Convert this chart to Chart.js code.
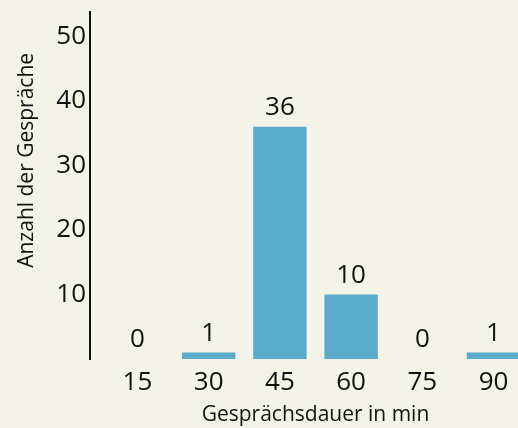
<!DOCTYPE html>
<html>
<head>
<meta charset="utf-8">
<script src="https://cdn.jsdelivr.net/npm/chart.js@4"></script>
<style>
  html, body { margin: 0; padding: 0; background: #f3f3e8; overflow: hidden; }
  #wrap { width: 541px; height: 428px; }
</style>
</head>
<body>
<div id="wrap"><canvas id="chart"></canvas></div>
<script>
const durations = [15, 30, 45, 60, 75, 90];
const counts = [0, 1, 36, 10, 0, 1];
const yTicks = [10, 20, 30, 40, 50];
const yTitle = 'Anzahl der Gespräche';

const FONT = "'Open Sans', 'Noto Sans', sans-serif";
const barColor = '#5aabc9';
const textColor = '#111111';

// value above each bar + the y title (sits above the middle of the axis in the original)
const labelsPlugin = {
  id: 'labelsPlugin',
  afterDatasetsDraw(chart) {
    const ctx = chart.ctx;
    const meta = chart.getDatasetMeta(0);
    ctx.save();
    ctx.font = '26px ' + FONT;
    ctx.fillStyle = textColor;
    ctx.textAlign = 'center';
    ctx.textBaseline = 'middle';
    meta.data.forEach((bar, i) => {
      ctx.fillText(String(counts[i]), bar.x, bar.y - 19);
    });

    ctx.font = '21px ' + FONT;
    ctx.translate(27, chart.scales.y.getPixelForValue(30.8));
    ctx.rotate(-Math.PI / 2);
    ctx.fillText(yTitle, 0, 0);
    ctx.restore();
  }
};

new Chart(document.getElementById('chart'), {
  type: 'bar',
  data: {
    datasets: [{
      data: durations.map((d, i) => ({ x: d, y: counts[i] })),
      backgroundColor: barColor,
      barPercentage: 1,
      categoryPercentage: 0.75
    }]
  },
  options: {
    responsive: true,
    maintainAspectRatio: false,
    animation: false,
    layout: { padding: { top: 12, left: 0, right: 0, bottom: 0 } },
    plugins: {
      legend: { display: false },
      tooltip: { enabled: false }
    },
    scales: {
      x: {
        type: 'linear',
        offset: false,
        min: 5,
        max: 100,
        afterBuildTicks: s => { s.ticks = durations.map(v => ({ value: v })); },
        afterFit: s => { s.height = 69; s.paddingLeft = 0; s.paddingRight = 0; },
        grid: { display: false, drawTicks: false, offset: false },
        border: { display: false },
        ticks: { color: textColor, font: { family: FONT, size: 26 }, padding: 8, maxRotation: 0 },
        title: {
          display: true,
          text: 'Gesprächsdauer in min',
          color: textColor,
          font: { family: FONT, size: 21 },
          padding: { top: 0, bottom: 0 }
        }
      },
      y: {
        min: 0,
        max: 53.8,
        afterBuildTicks: s => { s.ticks = yTicks.map(v => ({ value: v })); },
        afterFit: s => { s.width = 90; s.paddingTop = 0; s.paddingBottom = 0; },
        grid: { display: false, drawTicks: false },
        border: { display: true, color: '#111111', width: 2 },
        ticks: { color: textColor, font: { family: FONT, size: 26 }, padding: 4 }
      }
    }
  },
  plugins: [labelsPlugin]
});
</script>
</body>
</html>
